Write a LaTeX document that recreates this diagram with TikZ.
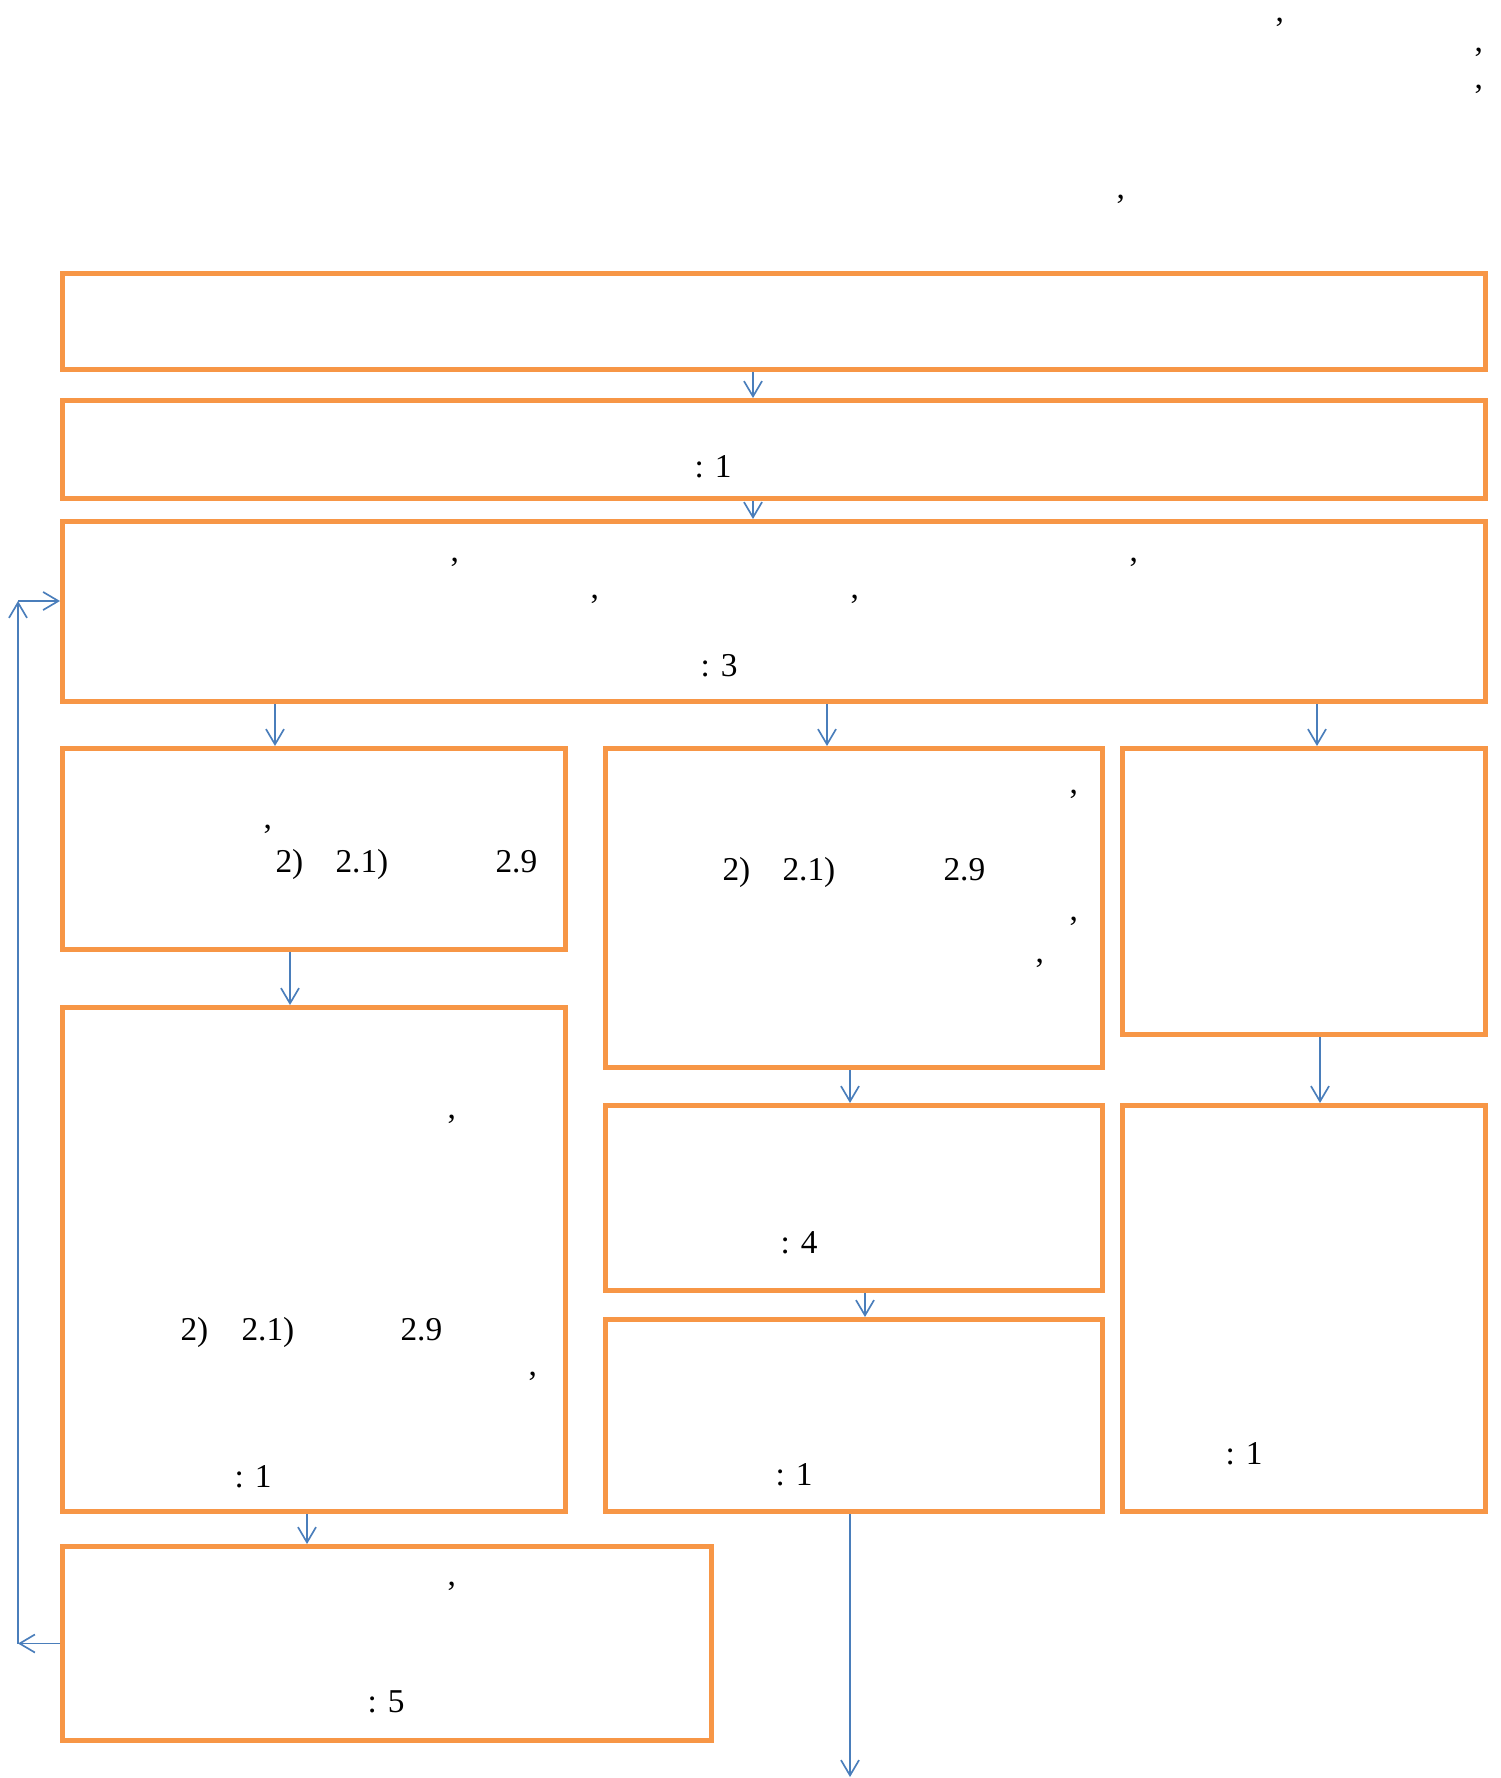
\documentclass[tikz,border=0pt]{standalone}
\usepackage{fontspec}
\setmainfont{Liberation Serif}
\usetikzlibrary{arrows.meta, positioning, calc}
\definecolor{boxline}{RGB}{247,150,70}
\definecolor{flowline}{RGB}{74,126,187}
\tikzset{
  stage/.style={rectangle, draw=boxline, line width=1.8pt, anchor=north west, inner sep=0pt},
  size/.style 2 args={minimum width=#1*0.36pt, minimum height=#2*0.36pt},
  flow/.style={draw=flowline, line width=0.6pt, -{Straight Barb[length=5.5pt,width=6.5pt]}},
  frag/.style={anchor=base west, inner sep=0pt, font=\fontsize{12}{14}\selectfont},
}

\begin{document}
\begin{tikzpicture}[x=0.36pt, y=-0.36pt]
  \useasboundingbox (0,0) rectangle (1501,1778);

  % heading text above the boxes
  \node[frag] (H1) at (1275,21) {,};
  \node[frag] (H2) at (1474,51) {,};
  \node[frag] (H3) at (1474,88) {,};
  \node[frag] (H4) at (1116,198) {,};

  % stages
  \node[stage, size={1423}{96}]  (HEAD)   at (60,271)   {};
  \node[stage, size={1423}{98}]  (STEP)   at (60,398)   {};
  \node[stage, size={1423}{180}] (MAIN)   at (60,519)   {};
  \node[stage, size={503}{201}]  (LEFTA)  at (60,746)   {};
  \node[stage, size={497}{319}]  (MIDA)   at (603,746)  {};
  \node[stage, size={363}{286}]  (RIGHTA) at (1120,746) {};
  \node[stage, size={503}{504}]  (LEFTB)  at (60,1005)  {};
  \node[stage, size={497}{185}]  (MIDB)   at (603,1103) {};
  \node[stage, size={497}{192}]  (MIDC)   at (603,1317) {};
  \node[stage, size={363}{406}]  (RIGHTB) at (1120,1103) {};
  \node[stage, size={649}{194}]  (BACK)   at (60,1544)  {};

  % texts inside the stages
  \node[frag] (STEPt) at (694,477) {: 1};
  \node[frag] (MAINa) at (450,561) {,};
  \node[frag] (MAINb) at (1129,561) {,};
  \node[frag] (MAINc) at (590,598) {,};
  \node[frag] (MAINd) at (850,598) {,};
  \node[frag] (MAINt) at (700,676) {: 3};
  \node[frag] (LEFTAa) at (263,828) {,};
  \node[frag] (LEFTAb) at (275,872) {2)};
  \node[frag] (LEFTAc) at (335,872) {2.1)};
  \node[frag] (LEFTAd) at (495,872) {2.9};
  \node[frag] (MIDAa) at (1069,793) {,};
  \node[frag] (MIDAb) at (722,880) {2)};
  \node[frag] (MIDAc) at (782,880) {2.1)};
  \node[frag] (MIDAd) at (943,880) {2.9};
  \node[frag] (MIDAe) at (1069,920) {,};
  \node[frag] (MIDAf) at (1035,962) {,};
  \node[frag] (LEFTBa) at (447,1118) {,};
  \node[frag] (LEFTBb) at (180,1340) {2)};
  \node[frag] (LEFTBc) at (241,1340) {2.1)};
  \node[frag] (LEFTBd) at (400,1340) {2.9};
  \node[frag] (LEFTBe) at (528,1375) {,};
  \node[frag] (LEFTBt) at (234,1487) {: 1};
  \node[frag] (MIDBt) at (780,1253) {: 4};
  \node[frag] (MIDCt) at (775,1485) {: 1};
  \node[frag] (RIGHTBt) at (1225,1464) {: 1};
  \node[frag] (BACKa) at (447,1585) {,};
  \node[frag] (BACKt) at (367,1712) {: 5};

  % columns of the connectors
  \coordinate (xa) at (753,0);
  \coordinate (xb) at (275,0);
  \coordinate (xc) at (827,0);
  \coordinate (xd) at (1317,0);
  \coordinate (xe) at (290,0);
  \coordinate (xf) at (850,0);
  \coordinate (xg) at (865,0);
  \coordinate (xh) at (1320,0);
  \coordinate (xi) at (307,0);
  \coordinate (OUT) at (850,1777);
  \coordinate (LOOPT) at (18,601);

  \draw[flow] (HEAD.south -| xa) -- (STEP.north -| xa);
  \draw[flow] (STEP.south -| xa) -- (MAIN.north -| xa);
  \draw[flow] (MAIN.south -| xb) -- (LEFTA.north -| xb);
  \draw[flow] (MAIN.south -| xc) -- (MIDA.north -| xc);
  \draw[flow] (MAIN.south -| xd) -- (RIGHTA.north -| xd);
  \draw[flow] (LEFTA.south -| xe) -- (LEFTB.north -| xe);
  \draw[flow] (MIDA.south -| xf) -- (MIDB.north -| xf);
  \draw[flow] (MIDB.south -| xg) -- (MIDC.north -| xg);
  \draw[flow] (RIGHTA.south -| xh) -- (RIGHTB.north -| xh);
  \draw[flow] (LEFTB.south -| xi) -- (BACK.north -| xi);
  \draw[flow] (MIDC.south -| xf) -- (OUT);
  % feedback to the main stage
  \draw[flow] (BACK.west) -- (BACK.west -| LOOPT);
  \draw[flow] (BACK.west -| LOOPT) -- (LOOPT);
  \draw[flow] (LOOPT) -- (LOOPT -| MAIN.west);
\end{tikzpicture}
\end{document}
